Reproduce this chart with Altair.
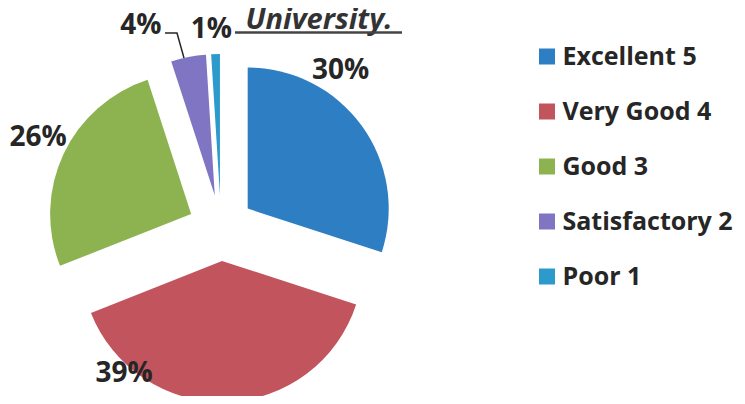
import altair as alt
import pandas as pd

# ---- data ----
categories = ["Excellent 5", "Very Good 4", "Good 3", "Satisfactory 2", "Poor 1"]
values = [30, 39, 26, 4, 1]
colors = ["#2E7EC4", "#C2545E", "#8CB34F", "#7F75C2", "#2C9ACB"]
title_text = "University."

# ---- layout (chart pixel coordinates) ----
CX, CY = 213, 220          # pie centre
EXPLODE = 33               # explode distance of every slice
R = 141                    # pie radius
# label offsets from each exploded slice centre (Excel "best fit" placement)
LABEL_OFFSETS = {
    "Excellent 5": (93, -138),
    "Very Good 4": (-98, 113),
    "Good 3": (-153, -76),
    "Satisfactory 2": (-74, -170),
    "Poor 1": (-8.5, -165),
}
LEADER = [(157, 25), (169, 25), (176, 50)]
FONT = "Open Sans"
TEXT_COLOR = "#262626"

df = pd.DataFrame({
    "category": categories,
    "value": values,
    "order": list(range(len(categories))),
    "lx": [LABEL_OFFSETS[c][0] for c in categories],
    "ly": [LABEL_OFFSETS[c][1] for c in categories],
})

base = (
    alt.Chart(df)
    .transform_joinaggregate(total="sum(value)")
    .transform_window(cum="sum(value)", sort=[alt.SortField("order")], frame=[None, 0])
    .transform_calculate(t0="(datum.cum - datum.value) / datum.total * 2 * PI")
    .transform_calculate(t1="datum.cum / datum.total * 2 * PI")
    .transform_calculate(mid="(datum.t0 + datum.t1) / 2")
    .transform_calculate(px=f"{CX} + {EXPLODE} * sin(datum.mid)")
    .transform_calculate(py=f"{CY} - {EXPLODE} * cos(datum.mid)")
    .transform_calculate(tx="datum.px + datum.lx")
    .transform_calculate(ty="datum.py + datum.ly")
    .transform_calculate(label="datum.value + '%'")
)

arcs = base.mark_arc(radius=R).encode(
    theta=alt.Theta("t0:Q", scale=None),
    theta2="t1:Q",
    x=alt.X("px:Q", scale=None, axis=None),
    y=alt.Y("py:Q", scale=None, axis=None),
    color=alt.Color(
        "category:N",
        scale=alt.Scale(domain=categories, range=colors),
        sort=categories,
        legend=alt.Legend(
            title=None,
            orient="none",
            legendX=526.5,
            legendY=36,
            symbolType="square",
            symbolSize=256,
            symbolStrokeWidth=0,
            labelFont=FONT,
            labelFontSize=25,
            labelFontWeight="bold",
            labelColor=TEXT_COLOR,
            labelOffset=3,
            labelLimit=400,
            rowPadding=29,
            padding=0,
        ),
    ),
)

labels = base.mark_text(
    font=FONT, fontSize=28, fontWeight="bold", color=TEXT_COLOR,
    align="center", baseline="middle",
).encode(
    x=alt.X("tx:Q", scale=None, axis=None),
    y=alt.Y("ty:Q", scale=None, axis=None),
    text="label:N",
)

leader_df = pd.DataFrame({"i": [0, 1, 2], "x": [p[0] for p in LEADER], "y": [p[1] for p in LEADER]})
leader = alt.Chart(leader_df).mark_line(color=TEXT_COLOR, strokeWidth=1.5).encode(
    x=alt.X("x:Q", scale=None, axis=None),
    y=alt.Y("y:Q", scale=None, axis=None),
    order="i:Q",
)

title = alt.Chart(pd.DataFrame({"t": [title_text]})).mark_text(
    font=FONT, fontSize=29, fontWeight="bold", fontStyle="italic", color="#333333",
    align="center", baseline="alphabetic",
).encode(x=alt.value(311), y=alt.value(21), text="t:N")

underline = alt.Chart(pd.DataFrame({"t": [title_text]})).mark_rule(
    color="#444444", strokeWidth=2.5
).encode(x=alt.value(227), x2=alt.value(394), y=alt.value(24.5))

chart = (
    alt.layer(arcs, labels, leader, title, underline)
    .properties(width=729, height=388, autosize=alt.AutoSizeParams(type="none"), padding=0)
    .configure_view(stroke=None)
)

chart.save("out.html", embed_options={"renderer": "svg", "actions": False})
